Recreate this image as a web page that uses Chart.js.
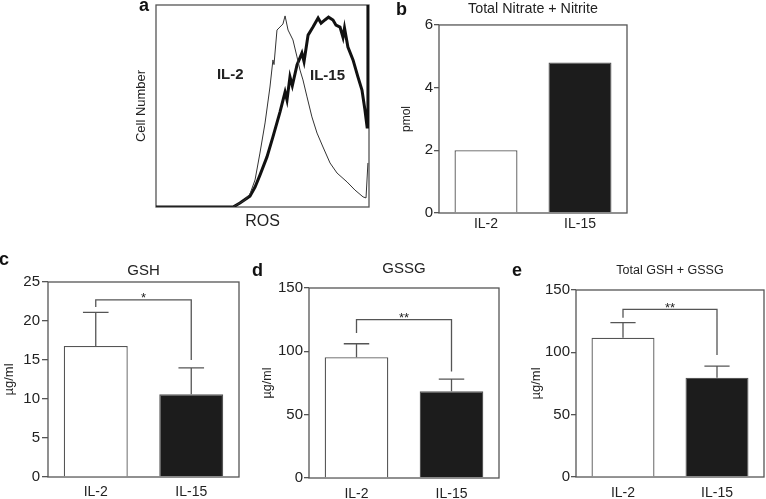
<!DOCTYPE html>
<html>
<head>
<meta charset="utf-8">
<script src="https://cdn.jsdelivr.net/npm/chart.js@4.4.1/dist/chart.umd.min.js"></script>
<style>
  body { margin: 0; background: #fff; width: 766px; height: 499px; position: relative; overflow: hidden; }
  canvas { position: absolute; }
  .tag { position: absolute; font: bold 18px "Liberation Sans", Arial, sans-serif; line-height: 18px; color: #111; }
</style>
</head>
<body>
<canvas id="panelA" width="260" height="240" style="left:120px;top:0px"></canvas>
<canvas id="panelB" width="260" height="250" style="left:380px;top:0px"></canvas>
<canvas id="panelC" width="250" height="249" style="left:0px;top:250px"></canvas>
<canvas id="panelD" width="255" height="249" style="left:250px;top:250px"></canvas>
<canvas id="panelE" width="261" height="249" style="left:505px;top:250px"></canvas>
<div class="tag" style="left:139px;top:-4px">a</div>
<div class="tag" style="left:396px;top:0px">b</div>
<div class="tag" style="left:-1px;top:250px">c</div>
<div class="tag" style="left:252px;top:261px">d</div>
<div class="tag" style="left:512px;top:261px">e</div>
<script>
// ROS histogram (flow cytometry), x = ROS channel (0-100), y = relative cell number
const il2Ros   = [0, 36.2, 39.4, 41.8, 44.1, 46.5, 48.8, 51.2, 53.5, 54.9, 55.4, 56.8, 58.2, 59.6, 60.6, 62.0, 64.3, 66.2, 67.6, 69.0, 70.9, 73.2, 75.6, 78.4, 81.7, 85.0, 89.7, 93.4, 97.2, 98.6, 99.5];
const il2Count = [0, 0, 2.0, 3.5, 6.4, 13.4, 26.7, 41.6, 59.4, 72.8, 70.5, 87.6, 89.1, 90.6, 94.6, 87.6, 82.7, 74.3, 67.8, 62.9, 54.5, 44.6, 36.6, 29.7, 21.8, 16.8, 12.4, 8.4, 5.0, 4.5, 21.8];
const il15Ros   = [0, 36.2, 39.4, 44.1, 46.5, 48.8, 52.1, 54.9, 58.2, 60.6, 61.5, 62.9, 64.0, 66.2, 68.5, 69.5, 71.4, 73.7, 76.1, 77.5, 79.3, 81.0, 83.1, 84.5, 86.4, 87.8, 88.5, 90.1, 92.5, 94.8, 96.7, 98.1, 99.1, 99.5];
const il15Count = [0, 0, 2.0, 5.4, 9.9, 15.8, 24.8, 34.7, 47.0, 56.9, 53.0, 64.4, 60.0, 70.3, 76.2, 72.0, 85.1, 89.1, 93.6, 91.0, 92.6, 94.0, 92.6, 90.0, 89.1, 84.0, 88.6, 79.2, 72.8, 64.4, 57.9, 48.0, 39.6, 100];

const groups = ['IL-2', 'IL-15'];
const nitrateNitrite = [2.0, 4.8];
const gshMean = [16.8, 10.6];
const gshErr = [4.3, 3.4];
const gssgMean = [95.4, 68.5];
const gssgErr = [10.6, 9.5];
const totalMean = [111.7, 79.6];
const totalErr = [12.1, 9.4];
// significance brackets: [bracket level, left leg end, right leg end]
const gshBracket = [22.7, 21.8, 15.0];
const gssgBracket = [125, 114.4, 84];
const totalBracket = [134.5, 127.8, 97.8];

const FONT = '"Liberation Sans", Arial, sans-serif';
const LINE = '#555';
Chart.defaults.font.family = FONT;
Chart.defaults.color = '#222';

const framePlugin = {
  id: 'frame',
  beforeDatasetsDraw(chart) {
    const { ctx, chartArea: { left, top, right, bottom } } = chart;
    ctx.save();
    ctx.strokeStyle = LINE;
    ctx.lineWidth = 1.3;
    ctx.strokeRect(left, top, right - left, bottom - top);
    ctx.restore();
  }
};

const errorPlugin = {
  id: 'errorBars',
  afterDatasetsDraw(chart, args, opts) {
    if (!opts.errs) return;
    const { ctx } = chart;
    const ys = chart.scales.y;
    const bars = chart.getDatasetMeta(0).data;
    const vals = chart.data.datasets[0].data;
    ctx.save();
    ctx.strokeStyle = LINE;
    ctx.lineWidth = 1.3;
    bars.forEach((b, i) => {
      const y0 = ys.getPixelForValue(vals[i]);
      const y1 = ys.getPixelForValue(vals[i] + opts.errs[i]);
      const cap = b.width * 0.4;
      ctx.beginPath();
      ctx.moveTo(b.x, y0); ctx.lineTo(b.x, y1);
      ctx.moveTo(b.x - cap / 2, y1); ctx.lineTo(b.x + cap / 2, y1);
      ctx.stroke();
    });
    if (opts.bracket) {
      const [lvl, l, r] = opts.bracket;
      const yb = ys.getPixelForValue(lvl);
      ctx.beginPath();
      ctx.moveTo(bars[0].x, ys.getPixelForValue(l));
      ctx.lineTo(bars[0].x, yb);
      ctx.lineTo(bars[1].x, yb);
      ctx.lineTo(bars[1].x, ys.getPixelForValue(r));
      ctx.stroke();
      ctx.fillStyle = '#222';
      ctx.font = '13px ' + FONT;
      ctx.textAlign = 'center';
      ctx.textBaseline = 'alphabetic';
      ctx.fillText(opts.stars, (bars[0].x + bars[1].x) / 2, yb + 2.4);
    }
    ctx.restore();
  }
};

const notesPlugin = {
  id: 'notes',
  afterDatasetsDraw(chart, args, opts) {
    if (!opts.items) return;
    const { ctx, scales: { x, y } } = chart;
    ctx.save();
    ctx.fillStyle = '#222';
    ctx.font = 'bold 15px ' + FONT;
    ctx.textAlign = 'left';
    ctx.textBaseline = 'alphabetic';
    opts.items.forEach(n => ctx.fillText(n.text, x.getPixelForValue(n.x), y.getPixelForValue(n.y)));
    ctx.restore();
  }
};

// panel a: ROS histogram
new Chart(document.getElementById('panelA'), {
  type: 'line',
  data: {
    datasets: [
      { label: 'IL-2', data: il2Ros.map((v, i) => ({ x: v, y: il2Count[i] })), borderColor: '#333', borderWidth: 1, pointRadius: 0, tension: 0 },
      { label: 'IL-15', data: il15Ros.map((v, i) => ({ x: v, y: il15Count[i] })), borderColor: '#111', borderWidth: 3, pointRadius: 0, tension: 0 }
    ]
  },
  plugins: [framePlugin, notesPlugin],
  options: {
    responsive: false,
    animation: false,
    devicePixelRatio: 1,
    layout: { padding: { left: 0, right: 11, top: 5, bottom: 0 } },
    plugins: {
      legend: { display: false },
      tooltip: { enabled: false },
      notes: { items: [{ text: 'IL-2', x: 28.6, y: 63.4 }, { text: 'IL-15', x: 72.3, y: 62.9 }] }
    },
    scales: {
      x: {
        type: 'linear', min: 0, max: 100,
        ticks: { display: false }, grid: { display: false }, border: { display: false },
        title: { display: true, text: 'ROS', color: '#222', font: { size: 16 }, padding: { top: 0, bottom: 9 } },
        afterFit(s) { s.height = 33; }
      },
      y: {
        min: 0, max: 100,
        ticks: { display: false }, grid: { display: false }, border: { display: false },
        title: { display: true, text: 'Cell Number', color: '#222', font: { size: 13 }, padding: { top: 13.9, bottom: 0 } },
        afterFit(s) { s.width = 36; }
      }
    }
  }
});

function barPanel(id, p) {
  return new Chart(document.getElementById(id), {
    type: 'bar',
    data: {
      labels: groups,
      datasets: [{
        data: p.values,
        backgroundColor: ['#ffffff', '#1c1c1c'],
        borderColor: LINE,
        borderWidth: 1.3,
        barPercentage: 0.67,
        categoryPercentage: 1
      }]
    },
    plugins: [framePlugin, errorPlugin],
    options: {
      responsive: false,
      animation: false,
      devicePixelRatio: 1,
      layout: { padding: { left: 0, right: p.padRight, top: 0, bottom: 0 } },
      plugins: {
        legend: { display: false },
        tooltip: { enabled: false },
        title: {
          display: true, text: p.title, fullSize: false, color: '#222',
          font: { size: p.titleSize, weight: 'normal' },
          padding: { top: p.titleTop, bottom: p.titleBottom }
        },
        errorBars: { errs: p.errs, bracket: p.bracket, stars: p.stars }
      },
      scales: {
        x: {
          grid: { display: false, drawTicks: false }, border: { display: false },
          ticks: { padding: p.xPad, color: '#222', font: { size: 14 } },
          afterFit(s) { s.height = p.xHeight; }
        },
        y: {
          min: 0, max: p.max,
          ticks: { stepSize: p.step, padding: p.tickPad, color: '#222', font: { size: 15 } },
          grid: { drawOnChartArea: false, tickLength: p.tickLen, color: LINE, lineWidth: 1.3 },
          border: { display: false },
          title: { display: true, text: p.yTitle, color: '#222', font: { size: p.yTitleSize }, padding: { top: p.yTitlePad, bottom: 0 } },
          afterFit(s) { s.width = p.yWidth; }
        }
      }
    }
  });
}

barPanel('panelB', {
  values: nitrateNitrite, max: 6, step: 2, title: 'Total Nitrate + Nitrite', titleSize: 14.3,
  titleTop: 0, titleBottom: 7.8, yTitle: 'pmol', yTitleSize: 12, yTitlePad: 19.8,
  yWidth: 59, padRight: 13, xHeight: 37, xPad: 3, tickLen: 5, tickPad: 1
});
barPanel('panelC', {
  values: gshMean, errs: gshErr, bracket: gshBracket, stars: '*', max: 25, step: 5,
  title: 'GSH', titleSize: 15, titleTop: 11.7, titleBottom: 2.3, yTitle: 'µg/ml', yTitleSize: 13, yTitlePad: 2,
  yWidth: 48, padRight: 11, xHeight: 22, xPad: 7, tickLen: 6, tickPad: 2
});
barPanel('panelD', {
  values: gssgMean, errs: gssgErr, bracket: gssgBracket, stars: '**', max: 150, step: 50,
  title: 'GSSG', titleSize: 15, titleTop: 10.2, titleBottom: 9.8, yTitle: 'µg/ml', yTitleSize: 12.5, yTitlePad: 10,
  yWidth: 59, padRight: 6, xHeight: 21, xPad: 8, tickLen: 5, tickPad: 1
});
barPanel('panelE', {
  values: totalMean, errs: totalErr, bracket: totalBracket, stars: '**', max: 150, step: 50,
  title: 'Total GSH + GSSG', titleSize: 12.5, titleTop: 13.3, titleBottom: 11.7, yTitle: 'µg/ml', yTitleSize: 13, yTitlePad: 24,
  yWidth: 71, padRight: 2, xHeight: 22, xPad: 8, tickLen: 5, tickPad: 1
});
</script>
</body>
</html>
